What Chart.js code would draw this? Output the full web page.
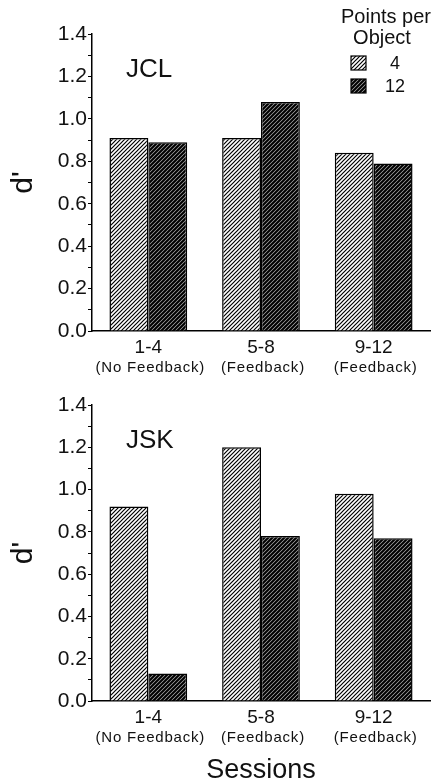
<!DOCTYPE html>
<html>
<head>
<meta charset="utf-8">
<title>d' por sesiones</title>
<script src="https://cdn.jsdelivr.net/npm/chart.js@4.4.0/dist/chart.umd.min.js"></script>
<style>
  html, body { margin: 0; padding: 0; background: #fff; overflow: hidden; }
  #panelJCL { position: absolute; left: 0; top: 0; width: 431px; height: 390px; }
  #panelJSK { position: absolute; left: 0; top: 390px; width: 431px; height: 394px; }
</style>
</head>
<body>
<div id="panelJCL"><canvas id="graficoJCL"></canvas></div>
<div id="panelJSK"><canvas id="graficoJSK"></canvas></div>
<script>
// datos
const sesiones = ['1-4', '5-8', '9-12'];
const condiciones = ['(No Feedback)', '(Feedback)', '(Feedback)'];
const puntos = ['4', '12'];
const jcl4 = [0.91, 0.91, 0.84];
const jcl12 = [0.89, 1.08, 0.79];
const jsk4 = [0.92, 1.20, 0.98];
const jsk12 = [0.13, 0.78, 0.77];
const yMax = 1.4;
const yPaso = 0.1;

const FUENTE = '"Liberation Sans", Arial, Helvetica, sans-serif';
const NEGRO = '#111';

// rayado diagonal tipo "/"
function rayado(fondo, grosor, paso) {
  const c = document.createElement('canvas');
  c.width = paso;
  c.height = paso;
  const g = c.getContext('2d');
  g.fillStyle = fondo;
  g.fillRect(0, 0, paso, paso);
  g.strokeStyle = '#000';
  g.lineWidth = grosor;
  g.beginPath();
  g.moveTo(-1, paso + 1); g.lineTo(paso + 1, -1);
  g.moveTo(-1, 1); g.lineTo(1, -1);
  g.moveTo(paso - 1, paso + 1); g.lineTo(paso + 1, paso - 1);
  g.stroke();
  return g.createPattern(c, 'repeat');
}

const rayaClara = rayado('#fff', 1.2, 4);
const rayaOscura = rayado('#b0b0b0', 2.1, 4);

// etiquetas de texto: nombre del sujeto, condicion bajo cada sesion, leyenda
function textos(sujeto, conLeyenda) {
  return {
    id: 'textos' + sujeto,
    afterDraw(chart) {
      const ctx = chart.ctx;
      const x = chart.scales.x;
      const y = chart.scales.y;
      ctx.save();
      ctx.fillStyle = NEGRO;

      ctx.font = '26px ' + FUENTE;
      ctx.textAlign = 'left';
      ctx.textBaseline = 'middle';
      ctx.fillText(sujeto, chart.chartArea.left + 34, y.getPixelForValue(1.23));

      ctx.font = '15px ' + FUENTE;
      ctx.letterSpacing = '0.8px';
      ctx.textAlign = 'center';
      condiciones.forEach((t, i) => {
        ctx.fillText(t, x.getPixelForTick(i) + 2, x.top + 37);
      });
      ctx.letterSpacing = '0px';

      if (conLeyenda) {
        ctx.font = '20px ' + FUENTE;
        ctx.textBaseline = 'alphabetic';
        ctx.fillText('Points per', 386, 23);
        ctx.fillText('Object', 382, 44);
        const cajas = [rayaClara, rayaOscura];
        ctx.font = '18px ' + FUENTE;
        ctx.textBaseline = 'middle';
        puntos.forEach((p, i) => {
          const top = 56 + i * 23;
          ctx.fillStyle = cajas[i];
          ctx.fillRect(351, top, 15, 14);
          ctx.strokeStyle = '#000';
          ctx.lineWidth = 1.2;
          ctx.strokeRect(351, top, 15, 14);
          ctx.fillStyle = NEGRO;
          ctx.fillText(p, 395, top + 8);
        });
      }
      ctx.restore();
    }
  };
}

function crearGrafico(id, sujeto, datos4, datos12, opts) {
  const config = {
    type: 'bar',
    data: {
      labels: sesiones,
      datasets: [
        {
          label: puntos[0],
          data: datos4,
          backgroundColor: rayaClara,
          borderColor: '#000',
          borderWidth: 1.5
        },
        {
          label: puntos[1],
          data: datos12,
          backgroundColor: rayaOscura,
          borderColor: '#000',
          borderWidth: 1.5
        }
      ]
    },
    options: {
      responsive: true,
      maintainAspectRatio: false,
      animation: false,
      layout: {
        padding: { top: opts.arriba, right: 1, bottom: 0, left: 0 }
      },
      datasets: {
        bar: { categoryPercentage: 0.69, barPercentage: 1 }
      },
      plugins: {
        legend: { display: false },
        tooltip: { enabled: false }
      },
      scales: {
        y: {
          min: 0,
          max: yMax,
          afterFit: (s) => { s.width = 92; },
          ticks: {
            stepSize: yPaso,
            autoSkip: false,
            color: NEGRO,
            padding: 1,
            font: { family: FUENTE, size: 21 },
            callback: (v) => (Math.round(v / yPaso) % 2 === 0 ? v.toFixed(1) : '')
          },
          grid: {
            drawOnChartArea: false,
            drawTicks: true,
            tickLength: 4,
            color: '#000',
            lineWidth: 1
          },
          border: { display: true, color: '#000', width: 1.5 },
          title: {
            display: true,
            text: "d'",
            color: NEGRO,
            font: { family: FUENTE, size: 30 },
            padding: { top: 6, bottom: 0 }
          }
        },
        x: {
          afterFit: (s) => { s.height = opts.altoX; },
          ticks: {
            color: NEGRO,
            padding: 5,
            font: { family: FUENTE, size: 19 }
          },
          grid: { display: false, drawTicks: false },
          border: { display: true, color: '#000', width: 1.5 },
          title: {
            display: opts.titulo,
            text: 'Sessions',
            color: NEGRO,
            font: { family: FUENTE, size: 27, lineHeight: 1 },
            padding: { top: 0, bottom: 0 }
          }
        }
      }
    },
    plugins: [textos(sujeto, opts.leyenda)]
  };
  const ctx = document.getElementById(id).getContext('2d');
  return new Chart(ctx, config);
}

crearGrafico('graficoJCL', 'JCL', jcl4, jcl12, { arriba: 34, altoX: 59, titulo: false, leyenda: true });
crearGrafico('graficoJSK', 'JSK', jsk4, jsk12, { arriba: 15, altoX: 83, titulo: true, leyenda: false });
</script>
</body>
</html>
